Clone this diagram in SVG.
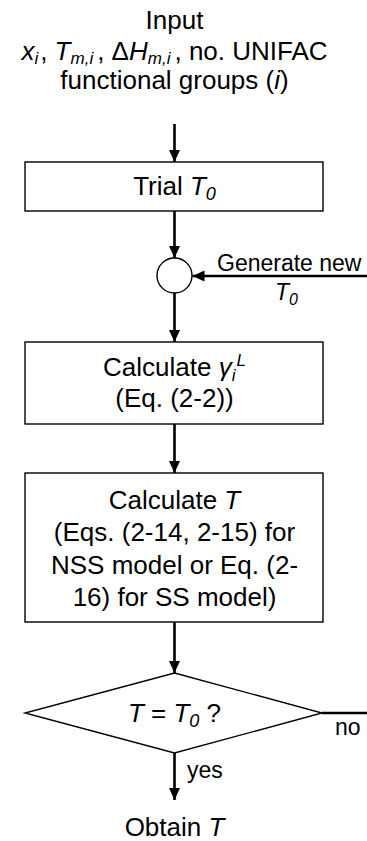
<svg xmlns="http://www.w3.org/2000/svg" width="367" height="841" viewBox="0 0 367 841">
<style>
text{font-family:"Liberation Sans",Arial,sans-serif;fill:#000}
.m{font-size:26px;text-anchor:middle}
.s{font-size:23px}
.i{font-style:italic}
.box{fill:#fff;stroke:#000;stroke-width:1.4}
.con{stroke:#000;stroke-width:2.6;fill:none}
</style>
<defs>
<marker id="ah" markerUnits="userSpaceOnUse" markerWidth="12" markerHeight="12" viewBox="0 0 12 12" refX="12" refY="6" orient="auto">
<path d="M0,0.5 L12,6 L0,11.5 Z" fill="#000"/>
</marker>
</defs>
<g id="connectors">
<line class="con" x1="174.5" y1="124" x2="174.5" y2="162" marker-end="url(#ah)"/>
<line class="con" x1="174.5" y1="211" x2="174.5" y2="258" marker-end="url(#ah)"/>
<line class="con" x1="367" y1="276" x2="192.5" y2="276" marker-end="url(#ah)"/>
<line class="con" x1="174.5" y1="293" x2="174.5" y2="342" marker-end="url(#ah)"/>
<line class="con" x1="174.5" y1="424" x2="174.5" y2="473" marker-end="url(#ah)"/>
<line class="con" x1="174.5" y1="622" x2="174.5" y2="673" marker-end="url(#ah)"/>
<line class="con" x1="322" y1="713" x2="367" y2="713"/>
<line class="con" x1="174.5" y1="753" x2="174.5" y2="800" marker-end="url(#ah)"/>
<text class="s" x="217" y="271">Generate new</text>
<text class="s i" x="275" y="300">T<tspan font-size="16" dy="5">0</tspan></text>
<text class="s" x="335" y="735">no</text>
<text class="s" x="187" y="778">yes</text>
</g>
<g id="input">
<text class="m" x="174.5" y="29">Input</text>
<text class="m" x="174.5" y="60"><tspan class="i">x</tspan><tspan class="i" font-size="17" dy="4">i</tspan><tspan dx="2" dy="-4">, </tspan><tspan class="i">T</tspan><tspan class="i" font-size="17" dy="4">m,i</tspan><tspan dx="4" dy="-4">, Δ</tspan><tspan class="i">H</tspan><tspan class="i" font-size="17" dy="4">m,i</tspan><tspan dx="4" dy="-4">, no. UNIFAC</tspan></text>
<text class="m" x="174.5" y="89">functional groups (<tspan class="i">i</tspan>)</text>
</g>
<g id="trial">
<rect class="box" x="25" y="162" width="298" height="49"/>
<text class="m" x="174.5" y="195">Trial <tspan class="i">T</tspan><tspan class="i" font-size="18" dy="5">0</tspan></text>
</g>
<g id="junction">
<circle cx="174.5" cy="275.5" r="17.5" fill="#fff" stroke="#000" stroke-width="1.4"/>
</g>
<g id="calc-gamma">
<rect class="box" x="25" y="342" width="298" height="82"/>
<text class="m" x="174.5" y="376">Calculate <tspan class="i">γ</tspan><tspan class="i" font-size="17" dy="5">i</tspan><tspan class="i" font-size="17" dx="1" dy="-15">L</tspan></text>
<text class="m" x="174.5" y="407">(Eq. (2-2))</text>
</g>
<g id="calc-t">
<rect class="box" x="25" y="473" width="298" height="149"/>
<text class="m" x="174.5" y="509">Calculate <tspan class="i">T</tspan></text>
<text class="m" x="174.5" y="541">(Eqs. (2-14, 2-15) for</text>
<text class="m" x="174.5" y="574">NSS model or Eq. (2-</text>
<text class="m" x="174.5" y="606">16) for SS model)</text>
</g>
<g id="decision">
<polygon class="box" points="174.5,673 322,713 174.5,753 25,713"/>
<text class="m" x="174.5" y="722"><tspan class="i">T</tspan> = <tspan class="i">T</tspan><tspan class="i" font-size="18" dy="5">0</tspan><tspan dy="-5"> ?</tspan></text>
</g>
<g id="obtain">
<text class="m" x="174.5" y="836">Obtain <tspan class="i">T</tspan></text>
</g>
</svg>
